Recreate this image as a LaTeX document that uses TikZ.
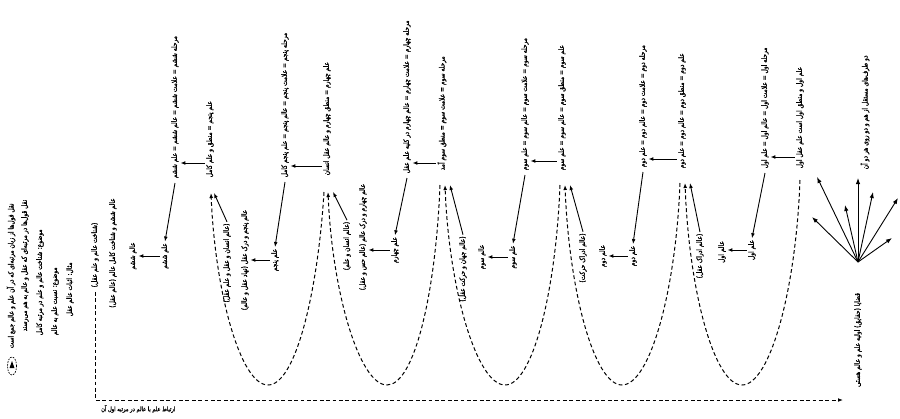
\documentclass[tikz,border=0pt]{standalone}
\usepackage{fontspec}
\usetikzlibrary{arrows.meta}
\TeXXeTstate=1
\newfontfamily\fa[Script=Arabic, FakeStretch=0.8, FakeBold=1.5]{DejaVu Sans}
\newcommand{\fatext}[1]{\beginR #1\endR}
\begin{document}
\begin{tikzpicture}[x=1pt,y=-1pt,
  col/.style={rotate=90, font=\fa\fontsize{7.4}{8}\selectfont, inner sep=1.5pt},
  arr/.style={-{Latex[length=5pt,width=3.8pt]}, line width=0.9pt},
  darr/.style={dash pattern=on 3.8pt off 2.6pt, line width=1pt},
  darrtip/.style={darr, -{Latex[length=5pt,width=3.8pt]}},
  fanarr/.style={-{Latex[length=6pt,width=4.4pt]}, line width=0.9pt}]
\useasboundingbox (0,0) rectangle (900,418);

% ---------- upper row: the six stages ----------
\node[col, anchor=west] (t0)  at (865,171) {\fatext{دو طرف‌های مستقل از هم و دو روی هر دو آن}};
\node[col, anchor=west] (t1a) at (800,170) {\fatext{علم اول و منطق اول است علم عقل اول}};
\node[col, anchor=west] (t1b) at (765,170) {\fatext{مرحله اول = علامت اول = عالم اول = علم اول}};
\node[col, anchor=west] (t2a) at (682,170) {\fatext{علم دوم = منطق دوم = عالم دوم = علم دوم}};
\node[col, anchor=west] (t2b) at (643,169) {\fatext{مرحله دوم = علامت دوم = عالم دوم = علم دوم}};
\node[col, anchor=west] (t3a) at (562,172) {\fatext{علم سوم = منطق سوم = عالم سوم = علم سوم}};
\node[col, anchor=west] (t3b) at (525,172) {\fatext{مرحله سوم = علامت سوم = عالم سوم = علم سوم}};
\node[col, anchor=west] (t4a) at (442,172) {\fatext{مرحله سوم = علامت سوم = منطق سوم آمد}};
\node[col, anchor=west] (t4b) at (407,175) {\fatext{مرحله چهارم = علامت چهارم = عالم چهارم در کلیه علم عقل}};
\node[col, anchor=west] (t5a) at (327,177) {\fatext{علم چهارم = منطق چهارم و عالم عقل انسان}};
\node[col, anchor=west] (t5b) at (285,179) {\fatext{مرحله پنجم = علامت پنجم = عالم پنجم = علم پنجم کامل}};
\node[col, anchor=west] (t6a) at (210,179) {\fatext{علم پنجم = منطق و علم کامل}};
\node[col, anchor=west] (t6b) at (175,180) {\fatext{مرحله ششم = علامت ششم = عالم ششم = علم ششم}};

% arrows from each stage to its companion
\draw[arr] (t1a.north |- 0,157) -- (t1b.south |- 0,157);
\draw[arr] (t2a.north |- 0,159) -- (t2b.south |- 0,159);
\draw[arr] (t3a.north |- 0,161) -- (t3b.south |- 0,161);
\draw[arr] (t4a.north |- 0,163) -- (t4b.south |- 0,163);
\draw[arr] (t5a.north |- 0,166) -- (t5b.south |- 0,166);
\draw[arr] (t6a.north |- 0,163) -- (t6b.south |- 0,163);

% ---------- lower row: sciences and worlds ----------
\node[col] (a1) at (752,250) {\fatext{علم اول}};
\node[col] (b1) at (722,252) {\fatext{عالم اول}};
\node[col] (c2) at (700,256) {\fatext{(عالم ادراک عقل)}};
\node[col] (a2) at (633,256) {\fatext{علم دوم}};
\node[col] (b2) at (603,256) {\fatext{عالم دوم}};
\node[col] (c3) at (583,258) {\fatext{(عالم ادراک حرکت)}};
\node[col] (a3) at (513,257) {\fatext{علم سوم}};
\node[col] (b3) at (482,257) {\fatext{عالم سوم}};
\node[col] (c4) at (463,269) {\fatext{(عالم جهان و حرکت عقل)}};
\node[col] (a4) at (395,250) {\fatext{علم چهارم}};
\node[col] (b4) at (363,237) {\fatext{عالم چهارم و درک عالم (عالم حس و عقل)}};
\node[col] (c5) at (347,246) {\fatext{(عالم انسان و علم)}};
\node[col] (a5) at (275,260) {\fatext{علم پنجم}};
\node[col] (b5) at (245,260) {\fatext{عالم پنجم و درک عقل (نهاد عقل و عالم)}};
\node[col] (c6) at (227,263) {\fatext{(عالم انسان و عقل و علم عقل)}};
\node[col] (a6) at (165,256) {\fatext{علم ششم}};
\node[col] (b6) at (133,256) {\fatext{عالم ششم}};
\node[col] (l1) at (113,253) {\fatext{عالم ششم و شناخت کامل عالم (عالم عقل)}};
\node[col] (l2) at (95,255) {\fatext{(شناخت عالم و علم عقل)}};

% stage -> science
\draw[arr] ([yshift=-3pt]t1b.west) -- (a1.east);
\draw[arr] ([yshift=-3pt]t2b.west) -- (a2.east);
\draw[arr] ([yshift=-3pt]t3b.west) -- (a3.east);
\draw[arr] ([yshift=-3pt]t4b.west) -- (a4.east);
\draw[arr] ([yshift=-3pt]t5b.west) -- (a5.east);
\draw[arr] ([yshift=-3pt]t6b.west) -- (a6.east);
% science -> world
\draw[arr] (a1.north) -- (b1.south |- a1.north);
\draw[arr] (a2.north) -- (b2.south |- a2.north);
\draw[arr] (a3.north) -- (b3.south |- a3.north);
\draw[arr] (a4.north) -- (b4.south |- a4.north);
\draw[arr] (a5.north) -- (b5.south |- a5.north);
\draw[arr] (a6.north) -- (b6.south |- a6.north);
% world of reason -> next stage
\draw[arr] (c2.east) -- ([xshift=8pt,yshift=-13pt]t2a.west);
\draw[arr] (c3.east) -- ([xshift=8pt,yshift=-13pt]t3a.west);
\draw[arr] (c4.east) -- ([xshift=8pt,yshift=-13pt]t4a.west);
\draw[arr] (c5.east) -- ([xshift=6pt,yshift=-15pt]t5a.west);
\draw[arr] (c6.east) -- ([xshift=4pt,yshift=-14pt]t6a.west);

% ---------- dashed loops between the stages ----------
\draw[darrtip] ([yshift=-10pt]t1a.west) .. controls (796,290) and (770,385) .. (742,385)
      .. controls (714,385) and (689,290) .. ([xshift=3pt,yshift=-13pt]t2a.west);
\draw[darrtip] ([xshift=-2pt,yshift=-13pt]t2a.west) .. controls (676,290) and (650,385) .. (622,385)
      .. controls (594,385) and (569,290) .. ([xshift=3pt,yshift=-13pt]t3a.west);
\draw[darrtip] ([xshift=-2pt,yshift=-13pt]t3a.west) .. controls (556,290) and (533,385) .. (505,385)
      .. controls (477,385) and (449,290) .. ([xshift=3pt,yshift=-13pt]t4a.west);
\draw[darrtip] ([xshift=-2pt,yshift=-13pt]t4a.west) .. controls (436,290) and (415,385) .. (387,385)
      .. controls (359,385) and (332,290) .. ([xshift=1pt,yshift=-15pt]t5a.west);
\draw[darrtip] ([xshift=-3pt,yshift=-15pt]t5a.west) .. controls (318,290) and (296,385) .. (268,385)
      .. controls (240,385) and (215,290) .. ([xshift=1pt,yshift=-14pt]t6a.west);

% ---------- the source: propositions fanning out ----------
\node[col] (q) at (858,340) {\fatext{قضایا (حقایق) اولیه علم و عالم هستی}};
\coordinate (fan) at (858,262);
\coordinate (f1) at (812,217);
\coordinate (f2) at (817,177);
\coordinate (f3) at (845,205);
\coordinate (f4) at (858,178);
\coordinate (f5) at (873,192);
\coordinate (f6) at (898,198);
\coordinate (f7) at (892,238);
\foreach \f in {f1,f2,f3,f4,f5,f6,f7} \draw[fanarr] (fan) -- (\f);

% return path to the source
\coordinate (qin) at (843,400);
\draw[darrtip] ([yshift=-3pt]l2.west) |- (qin);
\node[font=\fa\fontsize{6.4}{7}\selectfont, anchor=north west, inner sep=1pt] (bt) at (100,404)
  {\fatext{ارتباط علم با عالم در مرتبه اول آن}};

% ---------- notes on the left ----------
\node[col, anchor=west] (n1) at (11,350) {\fatext{نقل قول‌ها از زبان مرتبه‌ای که در آن علم و عالم جمع است}};
\node[col, anchor=west] (n2) at (25,333) {\fatext{نقل قول‌ها در مرتبه‌ای که عقل و عالم به هم می‌رسند}};
\node[col, anchor=west] (n3) at (40,337) {\fatext{موضوع: شناخت عالم و علم در مرتبه کامل}};
\node[col, anchor=west] (n4) at (55,337) {\fatext{موضوع: نسبت علم به عالم}};
\node[col, anchor=west] (n5) at (70,318) {\fatext{مثال: اثبات عالم عقل}};
% legend mark for the dashed loops
\draw[darr, line width=0.7pt, dash pattern=on 1.6pt off 1.2pt] (12,366) ellipse (4.5pt and 9pt);
\fill (12,361) -- (9.5,368) -- (14.5,368) -- cycle;
\end{tikzpicture}
\end{document}
